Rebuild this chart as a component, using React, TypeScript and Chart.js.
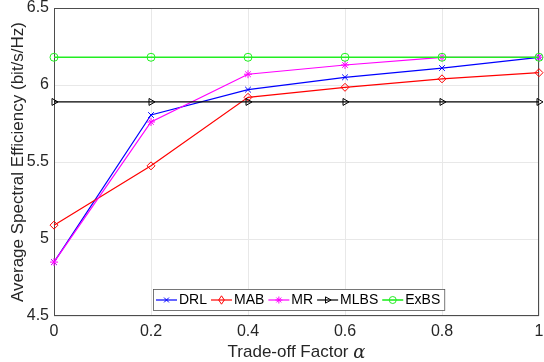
import React, { useEffect, useRef } from "react";
import { Chart, registerables } from "chart.js";

Chart.register(...registerables);

const alphaValues = [0, 0.2, 0.4, 0.6, 0.8, 1];
const drl = [4.85, 5.805, 5.97, 6.05, 6.11, 6.18];
const mab = [5.09, 5.475, 5.92, 5.985, 6.04, 6.08];
const mr = [4.85, 5.76, 6.07, 6.13, 6.18, 6.18];
const mlbs = [5.89, 5.89, 5.89, 5.89, 5.89, 5.89];
const exbs = [6.18, 6.18, 6.18, 6.18, 6.18, 6.18];
const seriesNames = ["DRL", "MAB", "MR", "MLBS", "ExBS"];
const yTitle = "Average Spectral Efficiency (bit/s/Hz)";
const xTitle = "Trade-off Factor ";

const FONT = "'Liberation Sans', Arial, Helvetica, sans-serif";

type Style = { color: string; marker: string; rotation: number; width: number };
const styles: Style[] = [
  { color: "#0000ff", marker: "crossRot", rotation: 0, width: 1.2 },
  { color: "#ff0000", marker: "rectRot", rotation: 0, width: 1.2 },
  { color: "#ff00ff", marker: "star", rotation: 0, width: 1.2 },
  { color: "#000000", marker: "triangle", rotation: 90, width: 1.2 },
  { color: "#22ee22", marker: "circle", rotation: 0, width: 1.6 },
];

function drawMarker(ctx: CanvasRenderingContext2D, kind: string, x: number, y: number, r: number, rot: number) {
  ctx.save();
  ctx.translate(x, y);
  ctx.rotate((rot * Math.PI) / 180);
  ctx.beginPath();
  if (kind === "circle") {
    ctx.arc(0, 0, r, 0, Math.PI * 2);
  } else if (kind === "rectRot") {
    ctx.moveTo(0, -r * 1.2);
    ctx.lineTo(r * 0.8, 0);
    ctx.lineTo(0, r * 1.2);
    ctx.lineTo(-r * 0.8, 0);
    ctx.closePath();
  } else if (kind === "crossRot") {
    const d = r * 0.7;
    ctx.moveTo(-d, -d); ctx.lineTo(d, d);
    ctx.moveTo(d, -d); ctx.lineTo(-d, d);
  } else if (kind === "star") {
    const d = r * 0.7;
    ctx.moveTo(-d, -d); ctx.lineTo(d, d);
    ctx.moveTo(d, -d); ctx.lineTo(-d, d);
    ctx.moveTo(0, -r); ctx.lineTo(0, r);
    ctx.moveTo(-r, 0); ctx.lineTo(r, 0);
  } else if (kind === "triangle") {
    ctx.moveTo(0, -r);
    ctx.lineTo(r * 0.9, r * 0.6);
    ctx.lineTo(-r * 0.9, r * 0.6);
    ctx.closePath();
  }
  ctx.stroke();
  ctx.restore();
}

const framePlugin = {
  id: "frame",
  beforeDatasetsDraw(chart: any) {
    const { ctx, chartArea: a } = chart;
    ctx.save();
    ctx.strokeStyle = "#4d4d4d";
    ctx.lineWidth = 1;
    ctx.strokeRect(Math.round(a.left) + 0.5, Math.round(a.top) + 0.5, Math.round(a.right - a.left) - 1, Math.round(a.bottom - a.top) - 1);
    ctx.restore();
  },
  afterDraw(chart: any) {
    const { ctx, chartArea: a } = chart;
    ctx.save();
    // axis titles
    ctx.fillStyle = "#262626";
    ctx.font = `17px ${FONT}`;
    ctx.textAlign = "center";
    ctx.textBaseline = "middle";
    ctx.save();
    ctx.translate(18, (a.top + a.bottom) / 2);
    ctx.rotate(-Math.PI / 2);
    ctx.fillText(yTitle, 0, 0);
    ctx.restore();
    const w1 = ctx.measureText(xTitle).width;
    ctx.font = `italic 18px 'DejaVu Serif', serif`;
    const w2 = ctx.measureText("α").width;
    const cx = (a.left + a.right) / 2;
    const sx = cx - (w1 + w2) / 2;
    ctx.textAlign = "left";
    ctx.font = `17px ${FONT}`;
    ctx.fillText(xTitle, sx, 352);
    ctx.font = `italic 18px 'DejaVu Serif', serif`;
    ctx.fillText("α", sx + w1, 353);

    // legend
    ctx.font = `14px ${FONT}`;
    const lineLen = 21;
    const gap = 4;
    const items = seriesNames.map((n) => ctx.measureText(n).width);
    let total = 3;
    items.forEach((w) => (total += lineLen + 2 + w + gap));
    const boxL = 153;
    const boxT = 289;
    const boxH = 21;
    ctx.fillStyle = "#ffffff";
    ctx.fillRect(boxL, boxT, total, boxH);
    ctx.strokeStyle = "#555555";
    ctx.lineWidth = 0.8;
    ctx.strokeRect(boxL + 0.5, boxT + 0.5, total, boxH);
    let x = boxL + 3;
    const y = boxT + boxH / 2 + 0.5;
    seriesNames.forEach((n, i) => {
      const s = styles[i];
      ctx.strokeStyle = s.color;
      ctx.lineWidth = s.width;
      ctx.beginPath();
      ctx.moveTo(x, y);
      ctx.lineTo(x + lineLen, y);
      ctx.stroke();
      ctx.lineWidth = 1;
      drawMarker(ctx, s.marker, x + lineLen / 2, y, 3.5, s.rotation);
      ctx.fillStyle = "#000000";
      ctx.textAlign = "left";
      ctx.textBaseline = "middle";
      ctx.fillText(n, x + lineLen + 2, y + 0.5);
      x += lineLen + 2 + items[i] + gap;
    });
    ctx.restore();
  },
};

export default function App() {
  const ref = useRef<HTMLCanvasElement | null>(null);
  useEffect(() => {
    document.body.style.margin = "0";
    const all = [drl, mab, mr, mlbs, exbs];
    const chart = new Chart(ref.current as HTMLCanvasElement, {
      type: "line",
      data: {
        datasets: all.map((vals, i) => ({
          label: seriesNames[i],
          data: vals.map((v, j) => ({ x: alphaValues[j], y: v })),
          borderColor: styles[i].color,
          borderWidth: styles[i].width,
          backgroundColor: "transparent",
          pointStyle: styles[i].marker as any,
          pointRotation: styles[i].rotation,
          pointRadius: 4,
          pointBorderWidth: 1,
          pointBorderColor: styles[i].color,
          pointBackgroundColor: "transparent",
          tension: 0,
          order: 4 - i,
          clip: false as any,
        })),
      },
      options: {
        responsive: false,
        animation: false,
        devicePixelRatio: 1,
        layout: { padding: { left: 0, right: 0, top: 8, bottom: 0 } },
        plugins: { legend: { display: false }, tooltip: { enabled: false } },
        scales: {
          x: {
            type: "linear",
            min: 0,
            max: 1,
            afterFit: (s: any) => { s.height = 46; s.paddingLeft = 0; s.paddingRight = 0; },
            ticks: {
              stepSize: 0.2,
              callback: (v: any) => String(+Number(v).toFixed(1)),
              font: { family: FONT, size: 16 },
              color: "#262626",
              padding: 6,
              maxRotation: 0,
            },
            grid: { color: "#e8e8e8", drawTicks: false },
            border: { display: false },
          },
          y: {
            min: 4.5,
            max: 6.5,
            afterFit: (s: any) => { s.width = 54; s.paddingTop = 0; s.paddingBottom = 0; },
            ticks: {
              stepSize: 0.5,
              callback: (v: any) => String(+Number(v).toFixed(1)),
              font: { family: FONT, size: 16 },
              color: "#262626",
              padding: 5,
            },
            grid: { color: "#e8e8e8", drawTicks: false },
            border: { display: false },
          },
        },
      },
      plugins: [framePlugin],
    });
    return () => chart.destroy();
  }, []);
  return (
    <div style={{ position: "absolute", left: 0, top: 0, width: 544, height: 362, background: "#fff" }}>
      <canvas ref={ref} width={544} height={362} style={{ display: "block" }} />
    </div>
  );
}
